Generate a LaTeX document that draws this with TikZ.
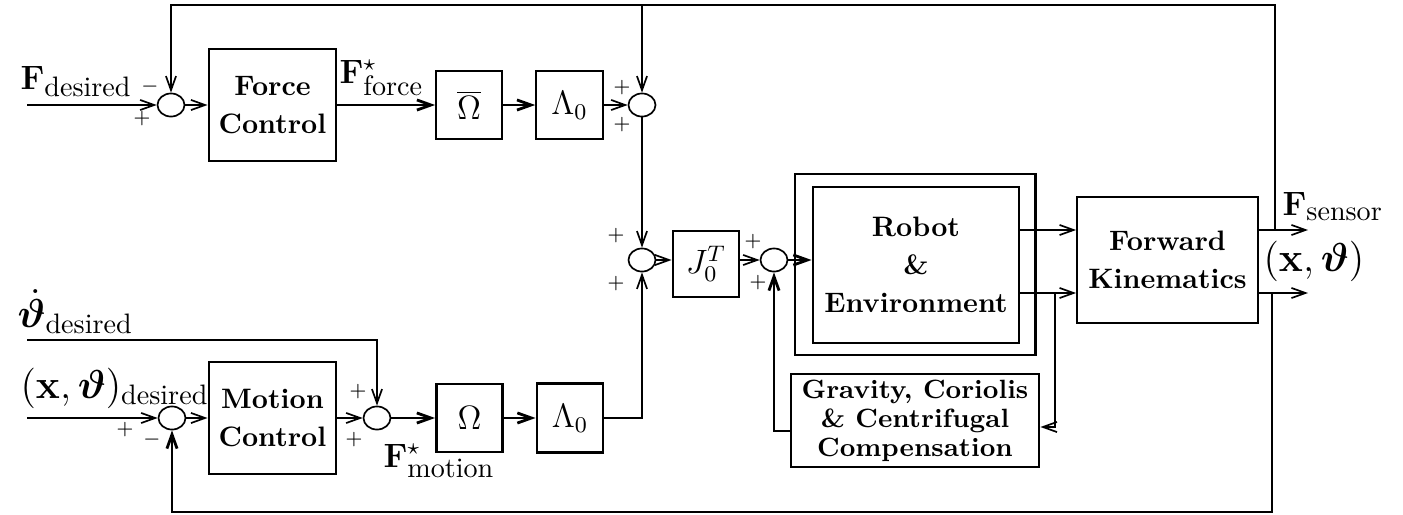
\documentclass[tikz,border=0pt]{standalone}
\usepackage{bm}
\usetikzlibrary{arrows.meta,shapes.geometric}
\newcommand{\subtxt}[1]{\mbox{\normalsize #1}}
\begin{document}
\begin{tikzpicture}[x=0.0125cm,y=-0.0125cm,>={Straight Barb[length=5pt,width=3.6pt]},
  thinline/.style={line width=0.6pt},
  thickline/.style={line width=1pt},
  block/.style={draw,thickline,inner sep=0pt,font=\large},
  txtblock/.style={draw,thickline,inner sep=0pt,align=center,font=\fontsize{10}{13.5}\selectfont\bfseries},
  sumnode/.style={draw,thinline,ellipse,inner sep=0pt,minimum width=9.6pt,minimum height=8.2pt},
  sgn/.style={inner sep=0pt,font=\scriptsize},
  lbl/.style={inner sep=0pt,anchor=base west,font=\large},
  biglbl/.style={lbl,font=\Large}]
  \useasboundingbox (0,0) rectangle (1403,515);
  % force loop
  \node[sumnode] (s1) at (171,105) {};
  \node[txtblock,minimum width=45.2pt,minimum height=39.8pt] (fc) at (272.5,105) {Force\\Control};
  \node[block,thinline,minimum width=23.5pt,minimum height=24.2pt] (obar) at (469,105) {$\overline{\Omega}$};
  \node[block,thinline,minimum width=23.8pt,minimum height=24.2pt] (lamf) at (569.5,105) {$\Lambda_0$};
  \node[sumnode] (s2) at (642,105) {};
  % robot
  \node[sumnode] (s3) at (642,260) {};
  \node[block,minimum width=23.5pt,minimum height=23.5pt] (jac) at (706,264) {$J_0^T$};
  \node[sumnode] (s4) at (774,260) {};
  \node[txtblock,minimum width=85.4pt,minimum height=64.4pt] (robout) at (915,264.5) {};
  \node[txtblock,minimum width=73.3pt,minimum height=55.5pt] (robin) at (916,265) {Robot\\\&\\Environment};
  \node[txtblock,thinline,minimum width=64.4pt,minimum height=44.8pt] (fk) at (1167.5,260) {Forward\\Kinematics};
  \node[draw,thickline,align=center,inner sep=0pt,font=\fontsize{9.4}{10.3}\selectfont\bfseries,
    minimum width=88.2pt,minimum height=33.1pt] (grav) at (915,420.5) {Gravity, Coriolis\\\& Centrifugal\\Compensation};
  % motion loop
  \node[sumnode] (s5) at (172,418) {};
  \node[txtblock,minimum width=45.2pt,minimum height=39.8pt] (mc) at (272.5,418) {Motion\\Control};
  \node[sumnode] (s6) at (377,418) {};
  \node[block,minimum width=23.5pt,minimum height=24.2pt] (om) at (469.5,418) {$\Omega$};
  \node[block,minimum width=23.5pt,minimum height=24.5pt] (lamm) at (570,418) {$\Lambda_0$};
  % helper points
  \coordinate (yF) at (0,230);
  \coordinate (yX) at (0,293);
  \coordinate (tapt) at (1275,230);
  \coordinate (tapb) at (1272,293);
  \coordinate (tapg) at (1055,293);
  \coordinate (fout) at (1308,230);
  \coordinate (xout) at (1308,293);
  \coordinate (tl) at (0,5);
  \coordinate (bl) at (0,512);
  \coordinate (gr) at (0,427);
  \coordinate (gl) at (0,431);
  \coordinate (fin) at (27,105);
  \coordinate (xin) at (27,418);
  \coordinate (thdin) at (27,340);
  % connections
  \draw[->,thinline] (fin) -- (s1.west);
  \draw[->,thinline] (s1.east) -- (fc.west);
  \draw[->,thickline] (fc.east) -- (obar.west);
  \draw[->,thickline] (obar.east) -- (lamf.west);
  \draw[->,thinline] (lamf.east) -- (s2.west);
  \draw[->,thinline] (s2.south) -- (s3.north);
  \draw[->,thinline] (s3.east) -- (s3.east -| jac.west);
  \draw[->,thinline] (jac.east |- s4) -- (s4.west);
  \draw[->,thickline] (s4.east) -- (s4.east -| robin.west);
  \draw[->,thinline] (robin.east |- yF) -- (fk.west |- yF);
  \draw[->,thinline] (robin.east |- yX) -- (fk.west |- yX);
  \draw[->,thinline] (fk.east |- yF) -- (fout);
  \draw[->,thinline] (fk.east |- yX) -- (xout);
  \draw[->,thinline] (tapg) |- (grav.east |- gr);
  \draw[->,thickline] (grav.west |- gl) -| (s4.south);
  \draw[->,thinline] (tapt) |- (tl -| s1) -- (s1.north);
  \draw[->,thinline] (tl -| s2) -- (s2.north);
  \draw[->,thickline] (tapb) |- (bl -| s5) -- (s5.south);
  \draw[->,thinline] (xin) -- (s5.west);
  \draw[->,thinline] (s5.east) -- (mc.west);
  \draw[->,thinline] (mc.east) -- (s6.west);
  \draw[->,thinline] (thdin) -| (s6.north);
  \draw[->,thickline] (s6.east) -- (om.west);
  \draw[->,thickline] (om.east) -- (lamm.west);
  \draw[->,thinline] (lamm.east) -| (s3.south);
  % signs
  \node[sgn] (s1m) at (150,87) {$-$};
  \node[sgn] (s1p) at (142,119) {$+$};
  \node[sgn] (s2a) at (622,88) {$+$};
  \node[sgn] (s2b) at (622,125) {$+$};
  \node[sgn] (s3a) at (616,236) {$+$};
  \node[sgn] (s3b) at (616,284) {$+$};
  \node[sgn] (s4a) at (753,242) {$+$};
  \node[sgn] (s4b) at (758,283) {$+$};
  \node[sgn] (s5p) at (125,430) {$+$};
  \node[sgn] (s5m) at (152,440) {$-$};
  \node[sgn] (s6a) at (358,392) {$+$};
  \node[sgn] (s6b) at (354,440) {$+$};
  % labels
  \node[lbl] (lfdes) at (20,89) {$\mathbf{F}_{\subtxt{desired}}$};
  \node[lbl] (lffor) at (339,83) {$\mathbf{F}^{\star}_{\subtxt{force}}$};
  \node[biglbl] (lthd) at (17,327) {$\dot{\bm{\vartheta}}_{\subtxt{desired}}$};
  \node[biglbl] (lxdes) at (20,398) {$(\mathbf{x},\bm{\vartheta})_{\subtxt{desired}}$};
  \node[lbl] (lfmot) at (383,467) {$\mathbf{F}^{\star}_{\subtxt{motion}}$};
  \node[lbl] (lfsen) at (1282,215) {$\mathbf{F}_{\subtxt{sensor}}$};
  \node[biglbl] (lxth) at (1263,271) {$(\mathbf{x},\bm{\vartheta})$};
\end{tikzpicture}
\end{document}
